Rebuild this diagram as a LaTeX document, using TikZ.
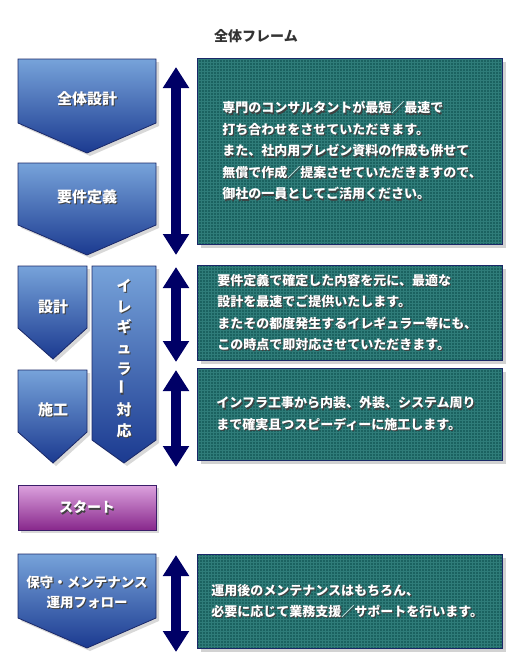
\documentclass[tikz,border=0pt]{standalone}
\usepackage{fontspec}
\usepackage{graphicx}
\newfontfamily\jpfont{Noto Sans CJK JP}
\usetikzlibrary{arrows.meta,positioning,calc,shadows}
\definecolor{stepblueT}{HTML}{77A3DA}
\definecolor{stepblueB}{HTML}{1B3A90}
\definecolor{stepedge}{HTML}{1A2868}
\definecolor{flownavy}{HTML}{000066}
\definecolor{boxteal}{HTML}{1B6260}
\definecolor{gridteal}{HTML}{2F7C79}
\definecolor{startT}{HTML}{DCA2DE}
\definecolor{startB}{HTML}{88288C}
\definecolor{startedge}{HTML}{3B1E6A}
\definecolor{titlegrey}{HTML}{333333}
\newcommand{\shd}[1]{\leavevmode\rlap{\kern1.2pt\raisebox{-1.2pt}{\textcolor{black!75}{#1}}}#1}
\tikzset{
  flowstep/.style={draw=stepedge, line width=0.8pt, top color=stepblueT, bottom color=stepblueB,
                   drop shadow={shadow xshift=3pt, shadow yshift=-3pt, opacity=0.3}},
  startstep/.style={draw=startedge, line width=0.8pt, top color=startT, bottom color=startB,
                    drop shadow={shadow xshift=3pt, shadow yshift=-3pt, opacity=0.3}},
  steplabel/.style={text=white, align=center, inner sep=0pt,
                    font={\jpfont\bfseries\fontsize{15}{20}\selectfont}},
  infobox/.style={rectangle, fill=boxteal, draw=stepedge, line width=0.8pt, anchor=north west,
                  text=white, align=left, inner ysep=0pt,
                  font={\jpfont\bfseries\fontsize{13}{21.5}\selectfont},
                  drop shadow={shadow xshift=4pt, shadow yshift=-4pt, opacity=0.35},
                  path picture={\draw[gridteal, line width=0.5pt, step=3pt]
                    (path picture bounding box.south west) grid (path picture bounding box.north east);}},
  updown/.style={{Triangle[length=21pt,width=25pt]}-{Triangle[length=21pt,width=25pt]},
                 line width=10pt, draw=flownavy},
}

\begin{document}
\begin{tikzpicture}[x=1pt, y=-1pt]
  \useasboundingbox[fill=white] (0,0) rectangle (520,670);

  \node[text=titlegrey, font={\jpfont\bfseries\fontsize{14}{16}\selectfont}] (title) at (256,36) {全体フレーム};

  % left column: steps
  \draw[flowstep] (18,59) -- (156,59) -- (156,123) -- (87,153) -- (18,123) -- cycle;
  \node[steplabel] (zentai) at (87,99) {\shd{全体設計}};
  \draw[flowstep] (18,163) -- (156,163) -- (156,225) -- (87,255) -- (18,225) -- cycle;
  \node[steplabel] (yoken) at (87,197) {\shd{要件定義}};
  \draw[flowstep] (18,266) -- (87,266) -- (87,328) -- (53,359) -- (18,328) -- cycle;
  \node[steplabel] (sekkei) at (53,307) {\shd{設計}};
  \draw[flowstep] (18,370) -- (87,370) -- (87,432) -- (53,463) -- (18,432) -- cycle;
  \node[steplabel] (sekou) at (53,410) {\shd{施工}};
  \draw[flowstep] (92,266) -- (156,266) -- (156,440) -- (124,463) -- (92,440) -- cycle;
  \node[steplabel, font={\jpfont\bfseries\fontsize{15}{20.7}\selectfont}] (irreg) at (124,359)
    {\shd{イ}\\\shd{レ}\\\shd{ギ}\\\shd{ュ}\\\shd{ラ}\\\shd{\rotatebox{90}{ー}}\\\shd{対}\\\shd{応}};
  \draw[startstep] (18,485) rectangle (156,530);
  \node[steplabel, font={\jpfont\bfseries\fontsize{14}{16}\selectfont}] (start) at (87,508) {\shd{スタート}};
  \draw[flowstep] (18,554) -- (156,554) -- (156,618) -- (87,648) -- (18,618) -- cycle;
  \node[steplabel, font={\jpfont\bfseries\fontsize{13.5}{20}\selectfont}] (hoshu) at (87,593)
    {\shd{保守・メンテナンス}\\\shd{運用フォロー}};

  % double arrows
  \coordinate (a1t) at (176,67);  \coordinate (a1b) at (176,255);
  \coordinate (a2t) at (176,267); \coordinate (a2b) at (176,362);
  \coordinate (a3t) at (176,370); \coordinate (a3b) at (176,467);
  \coordinate (a4t) at (176,555); \coordinate (a4b) at (176,652);
  \draw[updown] (a1t) -- (a1b);
  \draw[updown] (a2t) -- (a2b);
  \draw[updown] (a3t) -- (a3b);
  \draw[updown] (a4t) -- (a4b);

  % right column: explanations
  \node[infobox, minimum width=305, minimum height=186, inner xsep=25, text width=255] (info1) at (197,58)
    {\shd{専門のコンサルタントが最短／最速で}\\
     \shd{打ち合わせをさせていただきます。}\\
     \shd{また、社内用プレゼン資料の作成も併せて}\\
     \shd{無償で作成／提案させていただきますので、}\\
     \shd{御社の一員としてご活用ください。}};
  \node[infobox, minimum width=305, minimum height=95, inner xsep=20, text width=265] (info2) at (197,265)
    {\shd{要件定義で確定した内容を元に、最適な}\\
     \shd{設計を最速でご提供いたします。}\\
     \shd{またその都度発生するイレギュラー等にも、}\\
     \shd{この時点で即対応させていただきます。}};
  \node[infobox, minimum width=305, minimum height=92, inner xsep=19, text width=267] (info3) at (197,368)
    {\shd{インフラ工事から内装、外装、システム周り}\\
     \shd{まで確実且つスピーディーに施工します。}};
  \node[infobox, minimum width=305, minimum height=94, inner xsep=14, text width=277] (info4) at (197,554)
    {\shd{運用後のメンテナンスはもちろん、}\\
     \shd{必要に応じて業務支援／サポートを行います。}};
\end{tikzpicture}
\end{document}
